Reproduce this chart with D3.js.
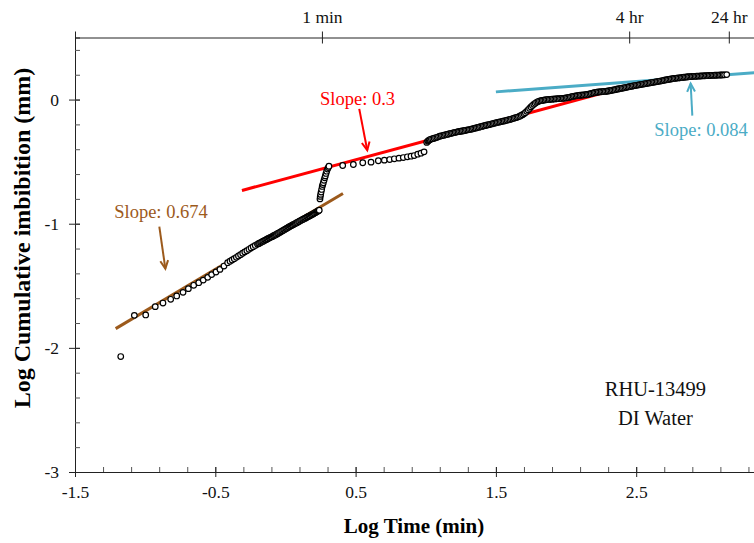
<!DOCTYPE html>
<html>
<head>
<meta charset="utf-8">
<script src="https://cdn.jsdelivr.net/npm/d3@7"></script>
<style>
	body { margin: 0; background: #fff; }
	svg text { font-family: "Liberation Serif", "Times New Roman", serif; }
</style>
</head>
<body>
<svg id="chart" width="754" height="543"></svg>
<script>
// <!-- ================================= -->
// <!-- DATA (log time in min, log cumulative imbibition in mm) -->
// <!-- ================================= -->
var earlyPoints = [
	[-1.174, -2.070], [-1.077, -1.738], [-0.996, -1.735], [-0.928, -1.668], [-0.873, -1.639],
	[-0.818, -1.609], [-0.775, -1.582], [-0.730, -1.553], [-0.692, -1.523], [-0.654, -1.496],
	[-0.618, -1.475], [-0.586, -1.454], [-0.554, -1.432], [-0.526, -1.410], [-0.495, -1.389],
	[-0.467, -1.368], [-0.438, -1.341], [-0.412, -1.314], [-0.395, -1.302], [-0.380, -1.292],
	[-0.365, -1.282], [-0.350, -1.271], [-0.335, -1.260], [-0.320, -1.249], [-0.305, -1.238],
	[-0.290, -1.227], [-0.275, -1.217], [-0.260, -1.206], [-0.245, -1.195], [-0.230, -1.185],
	[-0.215, -1.175], [-0.200, -1.166], [-0.192, -1.161], [-0.185, -1.157], [-0.177, -1.152],
	[-0.170, -1.148], [-0.162, -1.143], [-0.155, -1.139], [-0.147, -1.134], [-0.140, -1.130],
	[-0.132, -1.125], [-0.125, -1.121], [-0.117, -1.116], [-0.110, -1.112], [-0.102, -1.108],
	[-0.095, -1.104], [-0.087, -1.099], [-0.080, -1.095], [-0.072, -1.090], [-0.065, -1.086],
	[-0.057, -1.081], [-0.050, -1.076], [-0.042, -1.071], [-0.035, -1.066], [-0.027, -1.061],
	[-0.020, -1.056], [-0.012, -1.051], [-0.005, -1.046], [0.003, -1.041], [0.010, -1.036],
	[0.018, -1.031], [0.025, -1.026], [0.033, -1.021], [0.040, -1.017], [0.048, -1.012],
	[0.055, -1.008], [0.063, -1.003], [0.070, -0.999], [0.078, -0.994], [0.085, -0.990],
	[0.093, -0.985], [0.100, -0.980], [0.108, -0.975], [0.115, -0.971], [0.123, -0.966],
	[0.130, -0.962], [0.138, -0.957], [0.145, -0.953], [0.153, -0.948], [0.160, -0.944],
	[0.168, -0.939], [0.175, -0.935], [0.183, -0.930], [0.190, -0.926], [0.198, -0.921],
	[0.205, -0.916], [0.213, -0.911], [0.220, -0.906], [0.226, -0.902], [0.232, -0.898],
	[0.237, -0.894], [0.241, -0.891]
];

var jumpPoints = [
	[0.246, -0.800], [0.248, -0.780], [0.251, -0.764], [0.254, -0.745], [0.258, -0.724],
	[0.262, -0.700], [0.266, -0.685], [0.270, -0.670], [0.275, -0.650], [0.280, -0.630],
	[0.284, -0.615], [0.289, -0.595], [0.294, -0.577], [0.300, -0.560], [0.305, -0.548],
	[0.310, -0.537]
];

var midPoints = [
	[0.408, -0.531], [0.484, -0.523], [0.551, -0.509], [0.610, -0.504], [0.662, -0.493],
	[0.705, -0.488], [0.743, -0.483], [0.776, -0.477], [0.809, -0.472], [0.840, -0.467],
	[0.869, -0.461], [0.895, -0.456], [0.918, -0.451], [0.943, -0.440], [0.966, -0.432],
	[0.988, -0.421]
];

var latePoints = [
	[1.007, -0.345], [1.015, -0.335], [1.020, -0.330], [1.025, -0.326], [1.030, -0.322],
	[1.040, -0.318], [1.050, -0.315], [1.060, -0.311], [1.070, -0.308], [1.080, -0.304],
	[1.090, -0.300], [1.100, -0.295], [1.110, -0.292], [1.120, -0.290], [1.130, -0.287],
	[1.140, -0.284], [1.150, -0.281], [1.160, -0.279], [1.170, -0.275], [1.180, -0.272],
	[1.190, -0.270], [1.200, -0.267], [1.210, -0.264], [1.220, -0.262], [1.230, -0.259],
	[1.240, -0.257], [1.250, -0.255], [1.260, -0.253], [1.270, -0.251], [1.280, -0.249],
	[1.290, -0.246], [1.300, -0.244], [1.310, -0.242], [1.320, -0.240], [1.330, -0.237],
	[1.340, -0.234], [1.350, -0.231], [1.360, -0.228], [1.370, -0.225], [1.380, -0.222],
	[1.390, -0.219], [1.400, -0.216], [1.410, -0.213], [1.420, -0.210], [1.430, -0.207],
	[1.440, -0.205], [1.450, -0.202], [1.460, -0.199], [1.470, -0.196], [1.480, -0.193],
	[1.490, -0.190], [1.500, -0.187], [1.510, -0.184], [1.520, -0.182], [1.530, -0.179],
	[1.540, -0.177], [1.550, -0.174], [1.560, -0.172], [1.570, -0.169], [1.580, -0.166],
	[1.590, -0.163], [1.600, -0.160], [1.610, -0.157], [1.620, -0.153], [1.630, -0.150],
	[1.640, -0.146], [1.650, -0.143], [1.660, -0.139], [1.670, -0.134], [1.680, -0.128],
	[1.690, -0.122], [1.700, -0.115], [1.710, -0.106], [1.720, -0.095], [1.730, -0.083],
	[1.740, -0.071], [1.750, -0.059], [1.760, -0.048], [1.770, -0.038], [1.780, -0.030],
	[1.790, -0.022], [1.800, -0.016], [1.810, -0.012], [1.820, -0.009], [1.830, -0.007],
	[1.840, -0.005], [1.850, -0.003], [1.860, -0.001], [1.870, 0.000], [1.880, 0.001],
	[1.890, 0.002], [1.900, 0.003], [1.910, 0.004], [1.920, 0.005], [1.930, 0.006],
	[1.940, 0.007], [1.950, 0.007], [1.960, 0.008], [1.970, 0.009], [1.980, 0.010],
	[1.990, 0.011], [2.000, 0.013], [2.010, 0.015], [2.020, 0.017], [2.030, 0.020],
	[2.040, 0.023], [2.050, 0.026], [2.060, 0.028], [2.070, 0.030], [2.080, 0.032],
	[2.090, 0.034], [2.100, 0.035], [2.110, 0.036], [2.120, 0.037], [2.130, 0.038],
	[2.140, 0.039], [2.150, 0.041], [2.160, 0.043], [2.170, 0.046], [2.180, 0.049],
	[2.190, 0.052], [2.200, 0.055], [2.210, 0.057], [2.220, 0.059], [2.230, 0.061],
	[2.240, 0.062], [2.250, 0.063], [2.260, 0.064], [2.270, 0.065], [2.280, 0.066],
	[2.290, 0.067], [2.300, 0.069], [2.310, 0.071], [2.320, 0.073], [2.330, 0.076],
	[2.340, 0.078], [2.350, 0.080], [2.360, 0.083], [2.370, 0.085], [2.380, 0.087],
	[2.390, 0.090], [2.400, 0.092], [2.410, 0.094], [2.420, 0.097], [2.430, 0.099],
	[2.440, 0.101], [2.450, 0.104], [2.460, 0.106], [2.470, 0.108], [2.480, 0.111],
	[2.490, 0.113], [2.500, 0.115], [2.510, 0.117], [2.520, 0.119], [2.530, 0.121],
	[2.540, 0.123], [2.550, 0.125], [2.560, 0.127], [2.570, 0.129], [2.580, 0.131],
	[2.590, 0.133], [2.600, 0.135], [2.610, 0.137], [2.620, 0.139], [2.630, 0.141],
	[2.640, 0.143], [2.650, 0.145], [2.660, 0.147], [2.670, 0.149], [2.680, 0.151],
	[2.690, 0.153], [2.700, 0.156], [2.710, 0.158], [2.720, 0.160], [2.730, 0.162],
	[2.740, 0.164], [2.750, 0.166], [2.760, 0.168], [2.770, 0.170], [2.780, 0.171],
	[2.790, 0.173], [2.800, 0.174], [2.810, 0.175], [2.820, 0.177], [2.830, 0.178],
	[2.840, 0.180], [2.850, 0.181], [2.860, 0.182], [2.870, 0.184], [2.880, 0.185],
	[2.890, 0.185], [2.900, 0.186], [2.910, 0.187], [2.920, 0.187], [2.930, 0.188],
	[2.940, 0.189], [2.950, 0.189], [2.960, 0.190], [2.970, 0.191], [2.980, 0.191],
	[2.990, 0.192], [3.000, 0.193], [3.010, 0.193], [3.020, 0.194], [3.030, 0.194],
	[3.040, 0.195], [3.050, 0.195], [3.060, 0.196], [3.070, 0.196], [3.080, 0.197],
	[3.090, 0.197], [3.100, 0.198], [3.110, 0.198], [3.120, 0.199], [3.130, 0.199],
	[3.145, 0.201]
];

// fitted lines: end points [x, y] and the slope text
var fitLines = [
	{ name: 'early', label: 'Slope: 0.674', ends: [[-1.21, -1.845], [0.41, -0.756]] },
	{ name: 'mid', label: 'Slope: 0.3', ends: [[-0.31, -0.732], [2.28, 0.058]] },
	{ name: 'late', label: 'Slope: 0.084', ends: [[1.50, 0.062], [3.50, 0.230]] }
];

// axis ticks
var xLabelTicks = [-1.5, -0.5, 0.5, 1.5, 2.5];
var yLabelTicks = [-3, -2, -1, 0];
var topTickValues = [0.26, 2.45, 3.16];
var topTickLabels = ['1 min', '4 hr', '24 hr'];
var sampleLines = ['RHU-13499', 'DI Water'];

// <!-- ================================= -->
// <!-- CHART -->
// <!-- ================================= -->
var colors = { early: '#9c5a1c', mid: '#ff0000', late: '#4bacc6' };

var plotLeft = 75, plotTop = 37.5, plotBottom = 472;
var unitX = 140.3; // px per log unit on x

var x = d3.scaleLinear().domain([-1.5, 3.5]).range([plotLeft, plotLeft + 5 * unitX]);
var y = d3.scaleLinear().domain([-3, 0.5]).range([plotBottom, plotTop]);

var svg = d3.select('#chart');

// fitted lines go under the markers
svg.selectAll('.fit')
	.data(fitLines)
	.enter()
	.append('line')
	.attr('class', 'fit')
	.attr('x1', function (d) { return x(d.ends[0][0]); })
	.attr('y1', function (d) { return y(d.ends[0][1]); })
	.attr('x2', function (d) { return x(d.ends[1][0]); })
	.attr('y2', function (d) { return y(d.ends[1][1]); })
	.attr('stroke', function (d) { return colors[d.name]; })
	.attr('stroke-width', 3);

// axes: minor ticks every 0.2 point inward, labelled ticks cross the line
var xMinor = d3.range(-1.5, 3.51, 0.2);
var yMinor = d3.range(-3, 0.51, 0.2);

var gx = svg.append('g').attr('transform', 'translate(0,' + plotBottom + ')');
gx.call(d3.axisBottom(x).tickValues(xMinor).tickSize(-5).tickFormat(''));
gx.select('.domain').attr('stroke', '#222');
gx.selectAll('.tick line').attr('stroke', '#555');

var gx2 = svg.append('g').attr('transform', 'translate(0,' + plotBottom + ')');
gx2.call(d3.axisBottom(x).tickValues(xLabelTicks).tickSize(5).tickPadding(9));
gx2.select('.domain').remove();
gx2.selectAll('.tick line').attr('y1', -5).attr('stroke', '#222');
gx2.selectAll('.tick text').attr('font-size', '17.5px').attr('fill', '#111')
	.text(function (d) { return d3.format('.1f')(d).replace('−', '-'); });

var gy = svg.append('g').attr('transform', 'translate(' + plotLeft + ',0)');
gy.call(d3.axisLeft(y).tickValues(yMinor).tickSize(-5).tickFormat(''));
gy.select('.domain').attr('stroke', '#222');
gy.selectAll('.tick line').attr('stroke', '#555');

var gy2 = svg.append('g').attr('transform', 'translate(' + plotLeft + ',0)');
gy2.call(d3.axisLeft(y).tickValues(yLabelTicks).tickSize(6).tickPadding(10));
gy2.select('.domain').remove();
gy2.selectAll('.tick line').attr('x1', 5).attr('stroke', '#222');
gy2.selectAll('.tick text').attr('font-size', '17.5px').attr('fill', '#111')
	.text(function (d) { return String(d); });

var gt = svg.append('g').attr('transform', 'translate(0,' + plotTop + ')');
gt.call(d3.axisTop(x).tickValues(topTickValues).tickSize(6).tickPadding(9)
	.tickFormat(function (d, i) { return topTickLabels[i]; }));
gt.select('.domain').attr('stroke', '#222');
gt.selectAll('.tick line').attr('y1', 6).attr('stroke', '#222');
gt.selectAll('.tick text').attr('font-size', '17.5px').attr('fill', '#111');

// markers
var allPoints = earlyPoints.concat(jumpPoints, midPoints, latePoints);
svg.append('g')
	.selectAll('circle')
	.data(allPoints)
	.enter()
	.append('circle')
	.attr('cx', function (d) { return x(d[0]); })
	.attr('cy', function (d) { return y(d[1]); })
	.attr('r', 2.8)
	.attr('fill', '#fff')
	.attr('stroke', '#000')
	.attr('stroke-width', 1.2);

// slope notes with arrows (positions in data units)
var notes = [
	{ name: 'early', tx: -0.887, ty: -0.957, from: [-0.899, -1.024], to: [-0.856, -1.362] },
	{ name: 'mid', tx: 0.514, ty: -0.040, from: [0.526, -0.075], to: [0.583, -0.408] },
	{ name: 'late', tx: 2.962, ty: -0.295, from: [2.900, -0.129], to: [2.888, 0.129] }
];

notes.forEach(function (n, i) {
	var c = colors[n.name];
	svg.append('text')
		.attr('x', x(n.tx))
		.attr('y', y(n.ty))
		.attr('text-anchor', 'middle')
		.attr('font-size', '18.5px')
		.attr('fill', c)
		.text(fitLines[i].label);

	var x1 = x(n.from[0]), y1 = y(n.from[1]), x2 = x(n.to[0]), y2 = y(n.to[1]);
	var a = Math.atan2(y2 - y1, x2 - x1);
	var len = 9, spread = 0.45;
	svg.append('line')
		.attr('x1', x1).attr('y1', y1).attr('x2', x2).attr('y2', y2)
		.attr('stroke', c).attr('stroke-width', 2);
	svg.append('path')
		.attr('d', 'M' + (x2 - len * Math.cos(a - spread)) + ',' + (y2 - len * Math.sin(a - spread)) +
			'L' + x2 + ',' + y2 +
			'L' + (x2 - len * Math.cos(a + spread)) + ',' + (y2 - len * Math.sin(a + spread)))
		.attr('fill', 'none').attr('stroke', c).attr('stroke-width', 2);
});

// sample label
svg.selectAll('.sample')
	.data(sampleLines)
	.enter()
	.append('text')
	.attr('class', 'sample')
	.attr('x', x(2.637))
	.attr('y', function (d, i) { return 396 + i * 29; })
	.attr('text-anchor', 'middle')
	.attr('font-size', '20.5px')
	.attr('fill', '#111')
	.text(function (d) { return d; });

// axis titles
svg.append('text')
	.attr('x', 414)
	.attr('y', 533)
	.attr('text-anchor', 'middle')
	.attr('font-size', '21px')
	.attr('font-weight', 'bold')
	.text('Log Time (min)');

svg.append('text')
	.attr('transform', 'translate(30,' + 238 + ') rotate(-90)')
	.attr('text-anchor', 'middle')
	.attr('font-size', '24px')
	.attr('font-weight', 'bold')
	.text('Log Cumulative imbibition (mm)');
</script>
</body>
</html>
